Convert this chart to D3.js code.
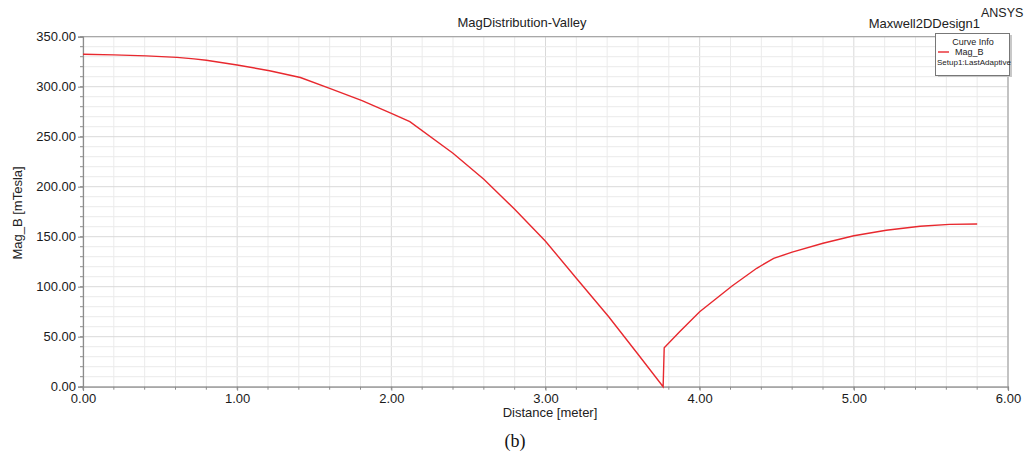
<!DOCTYPE html>
<html>
<head>
<meta charset="utf-8">
<script src="https://cdn.jsdelivr.net/npm/d3@7"></script>
<style>
  body { margin: 0; background: #fff; }
  svg { display: block; font-family: "Liberation Sans", Arial, sans-serif; }
</style>
</head>
<body>
<div id="chart"></div>
<script>
// distance [meter] and Mag_B [mTesla]
var distance = [0.00, 0.20, 0.41, 0.61, 0.72, 0.80, 1.00, 1.21, 1.41, 1.60, 1.81, 2.00, 2.12,
                2.40, 2.60, 2.80, 3.00, 3.20, 3.41, 3.60, 3.763, 3.77, 3.87, 4.00, 4.21,
                4.37, 4.48, 4.60, 4.80, 5.00, 5.21, 5.43, 5.62, 5.80];
var magB = [332.5, 331.8, 330.8, 329.3, 327.8, 326.5, 321.7, 316.0, 309.2, 298.4, 286.0, 273.4, 265.0,
            233.4, 207.5, 177.5, 145.5, 108.4, 70.0, 32.5, 0.0, 39.0, 55.0, 75.0, 100.7,
            118.4, 128.4, 134.5, 143.4, 151.0, 156.5, 160.5, 162.3, 162.7];

var xTicks = [0, 1, 2, 3, 4, 5, 6];
var yTicks = [0, 50, 100, 150, 200, 250, 300, 350];
var xMinor = d3.range(0, 6.0001, 0.2);
var yMinor = d3.range(0, 350.0001, 10);

var W = 1027, H = 452;
var margin = {left: 83, right: 19, top: 36.7, bottom: 65.3};

var svg = d3.select("#chart").append("svg").attr("width", W).attr("height", H);

var x = d3.scaleLinear().domain([0, 6]).range([margin.left, W - margin.right]);
var y = d3.scaleLinear().domain([0, 350]).range([H - margin.bottom, margin.top]);

// grid
var grid = svg.append("g");
grid.selectAll(".vm").data(xMinor).enter().append("line")
  .attr("x1", function(d) { return x(d); }).attr("x2", function(d) { return x(d); })
  .attr("y1", y(0)).attr("y2", y(350))
  .attr("stroke", function(d) { return Math.abs(d - Math.round(d)) < 1e-6 ? "#d9d9d9" : "#ebebeb"; })
  .attr("stroke-width", 1);
grid.selectAll(".hm").data(yMinor).enter().append("line")
  .attr("y1", function(d) { return y(d); }).attr("y2", function(d) { return y(d); })
  .attr("x1", x(0)).attr("x2", x(6))
  .attr("stroke", function(d) { return d % 50 === 0 ? "#d9d9d9" : "#ebebeb"; })
  .attr("stroke-width", 1);

// frame
svg.append("line").attr("x1", x(0)).attr("x2", x(6)).attr("y1", y(350)).attr("y2", y(350))
  .attr("stroke", "#a8a8a8").attr("stroke-width", 1.2);
svg.append("line").attr("x1", x(6)).attr("x2", x(6)).attr("y1", y(0)).attr("y2", y(350))
  .attr("stroke", "#a8a8a8").attr("stroke-width", 1.2);

// axes
var xAxis = d3.axisBottom(x).tickValues(xTicks).tickFormat(d3.format(".2f")).tickSize(4).tickPadding(3);
var yAxis = d3.axisLeft(y).tickValues(yTicks).tickFormat(d3.format(".2f")).tickSize(5).tickPadding(2);

var gx = svg.append("g").attr("transform", "translate(0," + y(0) + ")").call(xAxis);
var gy = svg.append("g").attr("transform", "translate(" + x(0) + ",0)").call(yAxis);

[gx, gy].forEach(function(g) {
  g.select(".domain").attr("stroke", "#8c8c8c").attr("stroke-width", 1.2);
  g.selectAll(".tick line").attr("stroke", "#8c8c8c");
  g.selectAll(".tick text").attr("font-size", 13).attr("fill", "#1a1a1a")
    .attr("font-family", "Liberation Sans, Arial, sans-serif");
});

// minor ticks
gx.selectAll(".mt").data(xMinor).enter().append("line")
  .attr("x1", function(d) { return x(d); }).attr("x2", function(d) { return x(d); })
  .attr("y1", 0).attr("y2", 3).attr("stroke", "#8c8c8c");
gy.selectAll(".mt").data(yMinor).enter().append("line")
  .attr("y1", function(d) { return y(d); }).attr("y2", function(d) { return y(d); })
  .attr("x1", 0).attr("x2", -3).attr("stroke", "#8c8c8c");

// curve
var line = d3.line()
  .x(function(d, i) { return x(distance[i]); })
  .y(function(d) { return y(d); });

svg.append("path").datum(magB)
  .attr("d", line)
  .attr("fill", "none")
  .attr("stroke", "#e8282e")
  .attr("stroke-width", 1.4);

// titles
svg.append("text").attr("x", 522).attr("y", 27).attr("text-anchor", "middle")
  .attr("font-size", 13).attr("fill", "#222").text("MagDistribution-Valley");
svg.append("text").attr("x", 980).attr("y", 28).attr("text-anchor", "end")
  .attr("font-size", 13).attr("fill", "#222").text("Maxwell2DDesign1");
svg.append("text").attr("x", 981).attr("y", 17)
  .attr("font-size", 12.5).attr("fill", "#222").text("ANSYS");

svg.append("text").attr("transform", "translate(22,213) rotate(-90)").attr("text-anchor", "middle")
  .attr("font-size", 13).attr("fill", "#222").text("Mag_B [mTesla]");
svg.append("text").attr("x", 550).attr("y", 417).attr("text-anchor", "middle")
  .attr("font-size", 13).attr("fill", "#222").text("Distance [meter]");
svg.append("text").attr("x", 515).attr("y", 447).attr("text-anchor", "middle")
  .attr("font-family", "Liberation Serif, Times New Roman, serif")
  .attr("font-size", 18).attr("fill", "#111").text("(b)");

// legend
var lg = svg.append("g");
lg.append("rect").attr("x", 938).attr("y", 35).attr("width", 74).attr("height", 42)
  .attr("fill", "#c8c8c8");
lg.append("rect").attr("x", 935.5).attr("y", 33.5).attr("width", 74).attr("height", 42)
  .attr("fill", "#fff").attr("stroke", "#777").attr("stroke-width", 1);
lg.append("text").attr("x", 973).attr("y", 45).attr("text-anchor", "middle")
  .attr("font-size", 9).attr("fill", "#222").text("Curve Info");
lg.append("line").attr("x1", 938).attr("x2", 949).attr("y1", 52).attr("y2", 52)
  .attr("stroke", "#e8282e").attr("stroke-width", 1.4);
lg.append("text").attr("x", 955).attr("y", 55)
  .attr("font-size", 9).attr("fill", "#222").text("Mag_B");
lg.append("text").attr("x", 937).attr("y", 65)
  .attr("font-size", 8).attr("fill", "#222").text("Setup1:LastAdaptive");
</script>
</body>
</html>
